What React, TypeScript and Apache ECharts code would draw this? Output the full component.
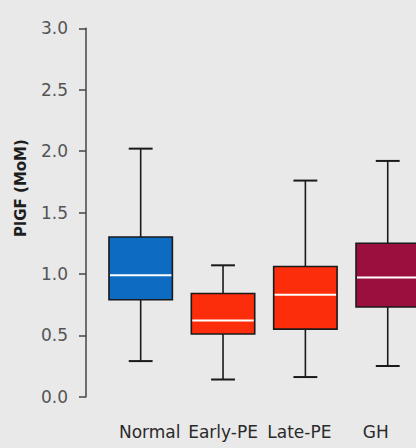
import React, { useEffect, useRef } from "react";
import * as echarts from "echarts";

const categories = ["Normal", "Early-PE", "Late-PE", "GH"];
const lowWhisker = [0.29, 0.14, 0.16, 0.25];
const q1Values = [0.79, 0.51, 0.55, 0.73];
const medianValues = [0.99, 0.62, 0.83, 0.97];
const q3Values = [1.3, 0.84, 1.06, 1.25];
const highWhisker = [2.02, 1.07, 1.76, 1.92];
const boxColors = ["#0d6cc2", "#fb2d0a", "#fb2d0a", "#9a0f3e"];
const yTicks = { min: 0, max: 3, interval: 0.5 };

export default function App() {
  const ref = useRef<HTMLDivElement>(null);
  useEffect(() => {
    if (!ref.current) return;
    const chart = echarts.init(ref.current, null, { renderer: "svg" });
    const data = categories.map((_, i) => [
      i,
      lowWhisker[i],
      q1Values[i],
      medianValues[i],
      q3Values[i],
      highWhisker[i],
    ]);
    const labelStyle = { fontSize: 17, color: "#2a2a2a", fontFamily: "DejaVu Sans" };
    chart.setOption({
      animation: false,
      backgroundColor: "#e9e9e9",
      textStyle: { fontFamily: "DejaVu Sans" },
      grid: {
        left: 99.5,
        top: 28.3,
        width: 329.4,
        bottom: 51.3,
        containLabel: false,
        outerBoundsMode: "none",
      },
      xAxis: {
        type: "category",
        data: categories,
        axisLine: { show: false },
        axisTick: { show: false },
        splitLine: { show: false },
        axisLabel: {
          interval: 0,
          margin: 27,
          ...labelStyle,
          formatter: (v: string, i: number) => `{p${i}|${v}}`,
          rich: {
            p0: { ...labelStyle, padding: [0, 0, 0, 18] },
            p1: { ...labelStyle, padding: [0, 0, 0, 0] },
            p2: { ...labelStyle, padding: [0, 12, 0, 0] },
            p3: { ...labelStyle, padding: [0, 24, 0, 0] },
          },
        },
      },
      yAxis: {
        type: "value",
        min: yTicks.min,
        max: yTicks.max,
        interval: yTicks.interval,
        offset: 13.5,
        splitLine: { show: false },
        axisLine: { show: true, lineStyle: { color: "#444", width: 1.5 } },
        axisTick: { show: true, length: 7, lineStyle: { color: "#444", width: 1.5 } },
        axisLabel: {
          margin: 18,
          fontSize: 17,
          color: "#555",
          fontFamily: "DejaVu Sans",
          formatter: (v: number) => v.toFixed(1),
        },
      },
      graphic: [
        {
          type: "text",
          x: 21,
          y: 188,
          rotation: Math.PI / 2,
          style: {
            text: "PlGF (MoM)",
            fontSize: 15,
            fontWeight: "bold",
            fontFamily: "DejaVu Sans",
            fill: "#1e1e1e",
            align: "center",
            verticalAlign: "middle",
          },
        },
      ],
      series: [
        {
          type: "custom",
          data,
          encode: { x: 0, y: [1, 2, 3, 4, 5] },
          clip: false,
          renderItem: (params: any, api: any) => {
            const idx = api.value(0);
            const low = api.coord([idx, api.value(1)]);
            const q1 = api.coord([idx, api.value(2)]);
            const med = api.coord([idx, api.value(3)]);
            const q3 = api.coord([idx, api.value(4)]);
            const high = api.coord([idx, api.value(5)]);
            const band = api.size([1, 0])[0];
            const bw = band * 0.77;
            const cw = band * 0.29;
            const x = low[0];
            const stroke = "#1a1a1a";
            const lw = 1.6;
            return {
              type: "group",
              children: [
                { type: "line", shape: { x1: x, y1: high[1], x2: x, y2: q3[1] }, style: { stroke, lineWidth: lw } },
                { type: "line", shape: { x1: x, y1: q1[1], x2: x, y2: low[1] }, style: { stroke, lineWidth: lw } },
                { type: "line", shape: { x1: x - cw / 2, y1: high[1], x2: x + cw / 2, y2: high[1] }, style: { stroke, lineWidth: 2 } },
                { type: "line", shape: { x1: x - cw / 2, y1: low[1], x2: x + cw / 2, y2: low[1] }, style: { stroke, lineWidth: 2 } },
                {
                  type: "rect",
                  shape: { x: x - bw / 2, y: q3[1], width: bw, height: q1[1] - q3[1] },
                  style: { fill: boxColors[params.dataIndex], stroke, lineWidth: lw },
                },
                {
                  type: "line",
                  shape: { x1: x - bw / 2 + 1, y1: med[1], x2: x + bw / 2 - 1, y2: med[1] },
                  style: { stroke: "#ffffff", lineWidth: 2 },
                },
              ],
            };
          },
        },
      ],
    });
    return () => chart.dispose();
  }, []);
  return (
    <div
      ref={ref}
      style={{ position: "fixed", left: 0, top: 0, width: 416, height: 448 }}
    />
  );
}
